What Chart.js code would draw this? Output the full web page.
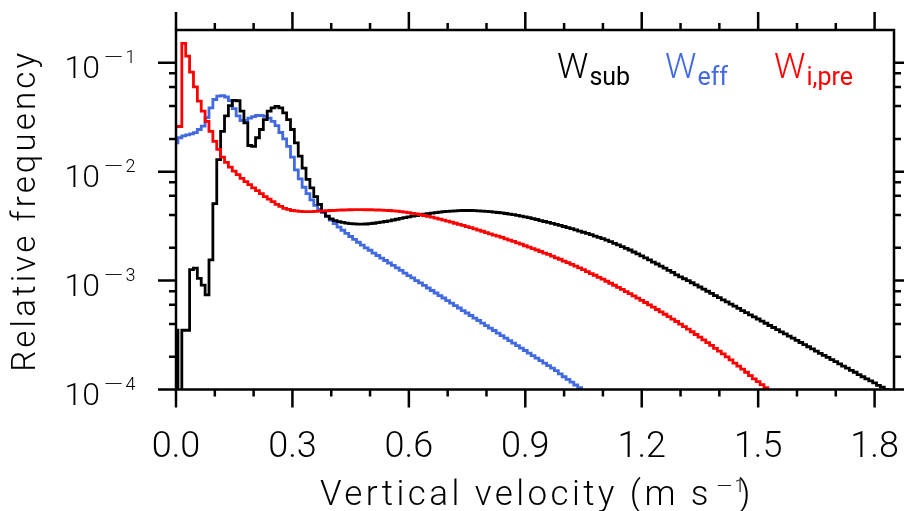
<!DOCTYPE html>
<html>
<head>
<meta charset="utf-8">
<script src="https://cdn.jsdelivr.net/npm/chart.js@4.4.1/dist/chart.umd.min.js"></script>
<style>
  html, body { margin: 0; padding: 0; background: #fff; }
  #wrap { width: 904px; height: 511px; position: relative; }
</style>
</head>
<body>
<div id="wrap"><canvas id="chart"></canvas></div>
<script>
// histogram bin centres, m s-1
const velocity = [
  0.00,0.01,0.02,0.03,0.04,0.05,0.06,0.07,0.08,0.09,
  0.10,0.11,0.12,0.13,0.14,0.15,0.16,0.17,0.18,0.19,
  0.20,0.21,0.22,0.23,0.24,0.25,0.26,0.27,0.28,0.29,
  0.30,0.31,0.32,0.33,0.34,0.35,0.36,0.37,0.38,0.39,
  0.40,0.41,0.42,0.43,0.44,0.45,0.46,0.47,0.48,0.49,
  0.50,0.51,0.52,0.53,0.54,0.55,0.56,0.57,0.58,0.59,
  0.60,0.61,0.62,0.63,0.64,0.65,0.66,0.67,0.68,0.69,
  0.70,0.71,0.72,0.73,0.74,0.75,0.76,0.77,0.78,0.79,
  0.80,0.81,0.82,0.83,0.84,0.85,0.86,0.87,0.88,0.89,
  0.90,0.91,0.92,0.93,0.94,0.95,0.96,0.97,0.98,0.99,
  1.00,1.01,1.02,1.03,1.04,1.05,1.06,1.07,1.08,1.09,
  1.10,1.11,1.12,1.13,1.14,1.15,1.16,1.17,1.18,1.19,
  1.20,1.21,1.22,1.23,1.24,1.25,1.26,1.27,1.28,1.29,
  1.30,1.31,1.32,1.33,1.34,1.35,1.36,1.37,1.38,1.39,
  1.40,1.41,1.42,1.43,1.44,1.45,1.46,1.47,1.48,1.49,
  1.50,1.51,1.52,1.53,1.54,1.55,1.56,1.57,1.58,1.59,
  1.60,1.61,1.62,1.63,1.64,1.65,1.66,1.67,1.68,1.69,
  1.70,1.71,1.72,1.73,1.74,1.75,1.76,1.77,1.78,1.79,
  1.80,1.81,1.82,1.83,1.84
];

// relative frequency, W_sub (black)
const wSub = [
  3.5e-4,1e-5,3.5e-4,3.5e-4,1.26e-3,1.3e-3,1.05e-3,9.1e-4,7.4e-4,1.55e-3,
  5.1e-3,0.0129,0.0235,0.0325,0.0405,0.0452,0.0448,0.036,0.0281,0.0174,
  0.0171,0.0205,0.0244,0.0301,0.036,0.0386,0.0398,0.0386,0.0347,0.0301,
  0.0244,0.0184,0.0139,0.0108,0.0085,0.0071,0.0059,0.005,0.0043,0.0039,
  0.00368,0.00356,0.00348,0.00342,0.00337,0.00334,0.00332,0.0033,0.0033,0.00331,
  0.00333,0.00336,0.0034,0.00344,0.00349,0.00354,0.0036,0.00366,0.00372,0.00378,
  0.00384,0.0039,0.00396,0.00402,0.00407,0.00412,0.00417,0.00421,0.00425,0.00429,
  0.00432,0.00435,0.00437,0.00439,0.0044,0.0044,0.0044,0.00439,0.00437,0.00435,
  0.00432,0.00429,0.00426,0.00422,0.00418,0.00413,0.00408,0.00403,0.00397,0.00391,
  0.00385,0.00378,0.00371,0.00364,0.00356,0.00349,0.00342,0.00335,0.00328,0.00321,
  0.00314,0.00307,0.003,0.00292,0.00285,0.00278,0.00271,0.00264,0.00256,0.00249,
  0.00243,0.00235,0.00228,0.0022,0.00213,0.00205,0.00198,0.00191,0.00183,0.00176,
  0.00169,0.00162,0.00155,0.00148,0.00142,0.00136,0.0013,0.00124,0.00119,0.00113,
  0.00108,0.00104,0.001,0.000955,0.000914,0.000873,0.000834,0.000798,0.000762,0.000729,
  0.000697,0.000665,0.000637,0.000608,0.000582,0.000556,0.000531,0.000508,0.000485,0.000465,
  0.000444,0.000424,0.000406,0.000387,0.000371,0.000354,0.000338,0.000324,0.000309,0.000296,
  0.000282,0.00027,0.000258,0.000247,0.000236,0.000225,0.000215,0.000206,0.000197,0.000188,
  0.00018,0.000172,0.000164,0.000157,0.00015,0.000144,0.000137,0.000131,0.000125,0.00012,
  0.000115,0.000109,0.000105,0.0001,0.000095
];

// W_eff (blue)
const wEff = [
  0.0184,0.0205,0.0213,0.0218,0.0222,0.0228,0.0244,0.0262,0.0313,0.0386,
  0.046,0.0495,0.05,0.0485,0.045,0.038,0.0325,0.0295,0.0295,0.031,
  0.032,0.0328,0.0328,0.0322,0.031,0.029,0.0265,0.0229,0.02,0.0171,
  0.0136,0.0104,0.0086,0.0072,0.0063,0.0055,0.0049,0.0045,0.0042,0.00388,
  0.0036,0.00333,0.0031,0.0029,0.00271,0.00254,0.00239,0.00225,0.00212,0.002,
  0.0019,0.00179,0.0017,0.00161,0.00153,0.00145,0.00138,0.00131,0.00124,0.00117,
  0.00111,0.00106,0.001,0.000951,0.000902,0.000855,0.000811,0.000769,0.000729,0.000692,
  0.000656,0.000622,0.00059,0.00056,0.000531,0.000504,0.000478,0.000453,0.00043,0.000407,
  0.000386,0.000366,0.000348,0.00033,0.000313,0.000296,0.000281,0.000267,0.000253,0.00024,
  0.000228,0.000216,0.000205,0.000194,0.000184,0.000175,0.000166,0.000157,0.000149,0.000139,
  0.000131,0.000124,0.000117,0.00011,0.000104,0.0000985
];

// W_i,pre (red)
const wPre = [
  0.026,0.026,0.151,0.115,0.082,0.06,0.0445,0.036,0.029,0.0235,
  0.019,0.016,0.0136,0.0122,0.011,0.0101,0.0094,0.0087,0.0081,0.0076,
  0.0071,0.0067,0.0063,0.0059,0.0056,0.0053,0.005,0.0048,0.0046,0.0045,
  0.0044,0.00436,0.00432,0.0043,0.0043,0.0043,0.00432,0.00434,0.00436,0.00438,
  0.0044,0.00442,0.00444,0.00445,0.00446,0.00447,0.00448,0.00448,0.00448,0.00447,
  0.00447,0.00446,0.00445,0.00444,0.00442,0.0044,0.00437,0.00434,0.0043,0.00425,
  0.0042,0.00415,0.00409,0.00403,0.00396,0.00389,0.00382,0.00374,0.00367,0.00359,
  0.00352,0.00344,0.00336,0.00328,0.00321,0.00313,0.00306,0.00298,0.00291,0.00284,
  0.00276,0.00269,0.00262,0.00256,0.00249,0.00242,0.00235,0.00229,0.00222,0.00216,
  0.00209,0.00203,0.00197,0.00191,0.00185,0.00179,0.00174,0.00168,0.00162,0.00157,
  0.00151,0.00146,0.00141,0.00136,0.00131,0.00126,0.00121,0.00116,0.00112,0.00107,
  0.00103,0.000986,0.000945,0.000906,0.000867,0.000829,0.000793,0.000758,0.000724,0.000691,
  0.000659,0.000629,0.000599,0.000571,0.000543,0.000517,0.000491,0.000467,0.000443,0.000421,
  0.000399,0.000378,0.000358,0.000339,0.00032,0.000303,0.000286,0.000269,0.000254,0.000239,
  0.000225,0.000212,0.000199,0.000187,0.000175,0.000164,0.000154,0.000144,0.000134,0.000125,
  0.000118,0.000111,0.000104,0.0000975,0.000091
];

const seriesSubs = ['sub', 'eff', 'i,pre'];
const seriesColors = ['#000000', '#4169e1', '#ff0000'];

const xTicks = [0, 0.3, 0.6, 0.9, 1.2, 1.5, 1.8];
const xTickLabels = ['0.0', '0.3', '0.6', '0.9', '1.2', '1.5', '1.8'];
const xMinorTicks = [0.1, 0.2, 0.4, 0.5, 0.7, 0.8, 1.0, 1.1, 1.3, 1.4, 1.6, 1.7];
const yTicks = [1e-4, 1e-3, 1e-2, 1e-1];
const yTickExps = ['4', '3', '2', '1'];
const yMinorTicks = [2e-4, 4e-4, 6e-4, 8e-4, 2e-3, 4e-3, 6e-3, 8e-3,
                     2e-2, 4e-2, 6e-2, 8e-2];

const FONT = '"Roboto Light", Roboto, "DejaVu Sans", sans-serif';
const SUB_FONT = 'Roboto, "DejaVu Sans", sans-serif';
const fnt = (size, weight, family) => `${weight || 300} ${size}px ${family || FONT}`;

function pts(values) {
  return values.map((v, i) => ({ x: velocity[i], y: v }));
}

// draw text stretched to a given width through letter spacing
function fitText(ctx, text, x, y, width) {
  ctx.letterSpacing = '0px';
  const natural = ctx.measureText(text).width;
  ctx.letterSpacing = ((width - natural) / text.length) + 'px';
  ctx.fillText(text, x, y);
  ctx.letterSpacing = '0px';
}

// frame, ticks on all four sides, labels, titles and legend
const frame = {
  id: 'frame',
  afterDatasetsDraw(chart) {
    const { ctx, chartArea: a, scales } = chart;
    const xs = scales.x, ys = scales.y;
    ctx.save();
    ctx.strokeStyle = '#000';
    ctx.fillStyle = '#000';
    ctx.lineWidth = 2.5;
    ctx.lineCap = 'butt';
    ctx.strokeRect(a.left, a.top, a.right - a.left, a.bottom - a.top);

    const vtick = (px, len) => {
      ctx.beginPath();
      ctx.moveTo(px, a.bottom); ctx.lineTo(px, a.bottom + len);
      ctx.moveTo(px, a.top); ctx.lineTo(px, a.top - len);
      ctx.stroke();
    };
    const htick = (py, len) => {
      ctx.beginPath();
      ctx.moveTo(a.left, py); ctx.lineTo(a.left - len, py);
      ctx.moveTo(a.right, py); ctx.lineTo(a.right + len, py);
      ctx.stroke();
    };
    xMinorTicks.forEach(v => vtick(xs.getPixelForValue(v), 7));
    xTicks.forEach(v => vtick(xs.getPixelForValue(v), 18));
    yMinorTicks.forEach(v => htick(ys.getPixelForValue(v), 7));
    yTicks.forEach(v => htick(ys.getPixelForValue(v), 18));

    // x tick labels
    ctx.font = fnt(36);
    ctx.textAlign = 'center';
    ctx.textBaseline = 'alphabetic';
    xTicks.forEach((v, i) => ctx.fillText(xTickLabels[i], xs.getPixelForValue(v), a.bottom + 67.5));

    // y tick labels: 10 with a raised exponent
    yTicks.forEach((v, i) => {
      const py = ys.getPixelForValue(v);
      ctx.font = fnt(32);
      ctx.textAlign = 'right';
      ctx.fillText('10', a.left - 76, py + 15);
      ctx.textAlign = 'left';
      ctx.font = fnt(18);
      const mw = ctx.measureText('\u2212').width;
      ctx.save();
      ctx.translate(a.left - 74, py);
      ctx.scale(2.2, 1);
      ctx.fillText('\u2212', 0, 0);
      ctx.restore();
      ctx.fillText(yTickExps[i], a.left - 74 + mw * 2.2 + 1, py);
    });

    // x title with superscript
    const cx = (a.left + a.right) / 2;
    const x0 = cx - 215;
    ctx.textAlign = 'left';
    ctx.font = fnt(35);
    fitText(ctx, 'Vertical velocity (m s', x0, a.bottom + 115.5, 392);
    ctx.font = fnt(18);
    ctx.save();
    ctx.translate(x0 + 395, a.bottom + 102);
    ctx.scale(1.8, 1);
    ctx.fillText('\u2212', 0, 0);
    ctx.restore();
    ctx.fillText('1', x0 + 395 + ctx.measureText('\u2212').width * 1.8 + 1, a.bottom + 102);
    ctx.font = fnt(35);
    ctx.fillText(')', x0 + 419, a.bottom + 115.5);

    // y title
    ctx.save();
    ctx.translate(35, (a.top + a.bottom) / 2 + 1);
    ctx.rotate(-Math.PI / 2);
    ctx.textAlign = 'center';
    ctx.font = fnt(33);
    fitText(ctx, 'Relative frequency', 0, 0, 322);
    ctx.restore();

    // legend
    const legendX = [557, 665, 774];
    ctx.textAlign = 'left';
    seriesSubs.forEach((s, i) => {
      ctx.fillStyle = seriesColors[i];
      ctx.font = fnt(35);
      ctx.fillText('W', legendX[i], a.top + 48);
      const w = ctx.measureText('W').width;
      ctx.font = fnt(25, 400, SUB_FONT);
      ctx.fillText(s, legendX[i] + w + 1, a.top + 55);
    });
    ctx.restore();
  }
};

const common = {
  stepped: 'middle',
  borderWidth: 2.8,
  pointRadius: 0,
  borderJoinStyle: 'miter',
  borderCapStyle: 'butt',
  fill: false,
  clip: 0
};

new Chart(document.getElementById('chart'), {
  type: 'line',
  data: {
    datasets: [
      { ...common, label: 'W_sub', data: pts(wSub), borderColor: seriesColors[0], order: 1 },
      { ...common, label: 'W_eff', data: pts(wEff), borderColor: seriesColors[1], order: 2 },
      { ...common, label: 'W_i,pre', data: pts(wPre), borderColor: seriesColors[2], order: 0 }
    ]
  },
  options: {
    responsive: true,
    maintainAspectRatio: false,
    animation: false,
    layout: { padding: { left: 176, top: 30, right: 10, bottom: 121.5 } },
    scales: {
      x: { type: 'linear', min: 0, max: 1.85, display: false },
      y: { type: 'logarithmic', min: 1e-4, max: 0.2, display: false }
    },
    plugins: {
      legend: { display: false },
      tooltip: { enabled: false }
    }
  },
  plugins: [frame]
});
</script>
</body>
</html>
